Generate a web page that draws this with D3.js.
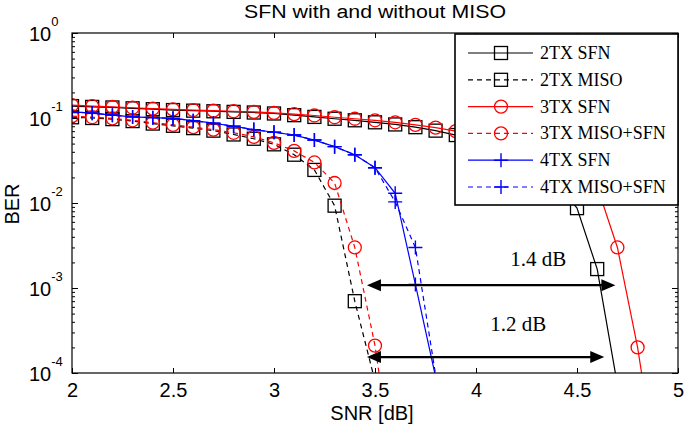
<!DOCTYPE html>
<html><head><meta charset="utf-8">
<script src="https://cdn.jsdelivr.net/npm/d3@7"></script>
<style>body{margin:0;background:#fff;} svg{display:block}</style>
</head><body>
<svg id="c" width="685" height="431"></svg>
<script>
// ---------- data ----------
const snrGrid = [2.0,2.1,2.2,2.3,2.4,2.5,2.6,2.7,2.8,2.9,3.0,3.1,3.2,3.3,3.4,3.5,3.6,3.7,3.8,3.9,4.0,4.1,4.2,4.3,4.4,4.5,4.6,4.7,4.8,4.9];
const ber2TX_SFN  = [0.138,0.135,0.133,0.130,0.127,0.124,0.122,0.120,0.118,0.116,0.113,0.108,0.103,0.098,0.094,0.089,0.084,0.078,0.071,0.063,0.055,0.046,0.037,0.027,0.017,0.0087,0.00167,0.000073];
const ber2TX_MISO = [0.102,0.100,0.097,0.092,0.086,0.081,0.076,0.071,0.064,0.057,0.049,0.037,0.0245,0.0093,0.0007,0.00008];
const ber3TX_SFN  = [0.142,0.138,0.135,0.132,0.129,0.126,0.124,0.122,0.120,0.118,0.115,0.111,0.107,0.102,0.098,0.094,0.089,0.083,0.077,0.070,0.064,0.058,0.052,0.046,0.038,0.028,0.0156,0.003,0.0002,0.000006];
const ber3TX_MISO = [0.105,0.102,0.099,0.094,0.088,0.083,0.078,0.073,0.067,0.060,0.051,0.041,0.030,0.0172,0.003,0.00021,0.000005];
const ber4TX_SFN  = [0.118,0.114,0.108,0.103,0.101,0.099,0.093,0.087,0.080,0.073,0.068,0.063,0.055,0.046,0.037,0.026,0.013,0.0011,0.00009];
const ber4TX_MISO = [0.118,0.114,0.108,0.103,0.101,0.099,0.093,0.087,0.080,0.073,0.068,0.063,0.055,0.046,0.037,0.026,0.0103,0.003,0.000095,0.000003];

const seriesNames  = ["2TX SFN","2TX MISO","3TX SFN","3TX MISO+SFN","4TX SFN","4TX MISO+SFN"];
const seriesValues = [ber2TX_SFN, ber2TX_MISO, ber3TX_SFN, ber3TX_MISO, ber4TX_SFN, ber4TX_MISO];
const seriesColors = ["#000000","#000000","#ff0000","#ff0000","#0000ff","#0000ff"];
const seriesDashed = [false,true,false,true,false,true];
const seriesMarker = ["square","square","circle","circle","plus","plus"];

const xTicks = [2,2.5,3,3.5,4,4.5,5];
const yMajor = [1e-4,1e-3,1e-2,1e-1,1];
const yExponents = ["-4","-3","-2","-1","0"];

const arrowSNR = [[3.46,4.69],[3.46,4.635]];
const arrowBER = [1.08e-3,1.54e-4];
const annoText = ["1.4 dB","1.2 dB"];
const annoSNR  = [4.17,4.07];
const annoBER  = [1.8e-3,3.1e-4];

const titleText = "SFN with and without MISO";
const xLabel = "SNR [dB]";
const yLabel = "BER";

// ---------- layout ----------
const W=685,H=431;
const M={left:72,right:678,top:33,bottom:373};
const sans = "'Liberation Sans', Arial, Helvetica, sans-serif";
const serif = "'Liberation Serif', 'Times New Roman', serif";

const x = d3.scaleLinear().domain([2,5]).range([M.left,M.right]);
const y = d3.scaleLog().domain([1e-4,1]).range([M.bottom,M.top]);

const svg = d3.select("#c");
svg.append("rect").attr("width",W).attr("height",H).attr("fill","#fff");
svg.append("clipPath").attr("id","clip").append("rect")
  .attr("x",M.left).attr("y",M.top).attr("width",M.right-M.left).attr("height",M.bottom-M.top);

// minor ticks
const yMinor = [];
for (let e=-4;e<0;e++) for (let k=2;k<=9;k++) yMinor.push(k*Math.pow(10,e));

const gAx = svg.append("g");
gAx.append("g").attr("transform",`translate(0,${M.bottom})`)
  .call(d3.axisBottom(x).tickValues(xTicks).tickSizeInner(-5).tickSizeOuter(0).tickPadding(10).tickFormat(d=>String(d)))
  .call(g=>g.selectAll("text").attr("font-size",20).attr("font-family",sans).attr("fill","#000"));
gAx.append("g").attr("transform",`translate(0,${M.top})`)
  .call(d3.axisTop(x).tickValues(xTicks).tickSizeInner(-5).tickSizeOuter(0).tickFormat(""));
gAx.append("g").attr("transform",`translate(${M.left},0)`)
  .call(d3.axisLeft(y).tickValues(yMajor).tickSizeInner(-6).tickSizeOuter(0).tickFormat(""));
gAx.append("g").attr("transform",`translate(${M.right},0)`)
  .call(d3.axisRight(y).tickValues(yMajor).tickSizeInner(-6).tickSizeOuter(0).tickFormat(""));
gAx.append("g").attr("transform",`translate(${M.left},0)`)
  .call(d3.axisLeft(y).tickValues(yMinor).tickSizeInner(-3).tickSizeOuter(0).tickFormat(""));
gAx.append("g").attr("transform",`translate(${M.right},0)`)
  .call(d3.axisRight(y).tickValues(yMinor).tickSizeInner(-3).tickSizeOuter(0).tickFormat(""));
gAx.selectAll(".domain").remove();
gAx.selectAll(".tick line").attr("stroke","#000").attr("stroke-width",1);

// y tick labels 10^e
yMajor.forEach((v,i)=>{
  const t = svg.append("text").attr("x",29).attr("y",y(v)+8)
    .attr("font-family",sans).attr("font-size",20).attr("fill","#000");
  t.append("tspan").text("10");
  t.append("tspan").attr("font-size",13).attr("dy",-15).text(yExponents[i]);
});

// ---------- curves ----------
const line = d3.line().x(d=>x(d[0])).y(d=>y(d[1]));
const plot = svg.append("g").attr("clip-path","url(#clip)");

function drawMarker(g, type, cx, cy, color){
  if (type==="square"){
    g.append("rect").attr("x",cx-6.5).attr("y",cy-6.5).attr("width",13).attr("height",13)
      .attr("fill","none").attr("stroke",color).attr("stroke-width",1.3);
  } else if (type==="circle"){
    g.append("circle").attr("cx",cx).attr("cy",cy).attr("r",6.5)
      .attr("fill","none").attr("stroke",color).attr("stroke-width",1.3);
  } else {
    g.append("path").attr("d",`M${cx-7},${cy}H${cx+7}M${cx},${cy-7}V${cy+7}`)
      .attr("fill","none").attr("stroke",color).attr("stroke-width",1.4);
  }
}

seriesValues.forEach((vals,i)=>{
  const pts = vals.map((v,j)=>[snrGrid[j],v]);
  const g = plot.append("g");
  g.append("path").attr("d",line(pts)).attr("fill","none")
    .attr("stroke",seriesColors[i]).attr("stroke-width",1.2)
    .attr("stroke-dasharray",seriesDashed[i]?"5,4":null);
  pts.filter(p=>p[1]>=1e-4 && p[1]<=1).forEach(p=>drawMarker(g,seriesMarker[i],x(p[0]),y(p[1]),seriesColors[i]));
});

// ---------- annotations ----------
function arrowHead(g, tipX, tipY, dir){
  const L=14, Hh=6;
  g.append("path").attr("d",`M${tipX},${tipY}L${tipX-dir*L},${tipY-Hh}L${tipX-dir*L},${tipY+Hh}Z`).attr("fill","#000");
}
arrowSNR.forEach((s,i)=>{
  const yy = y(arrowBER[i]);
  const x0 = x(s[0]), x1 = x(s[1]);
  const g = svg.append("g");
  g.append("line").attr("x1",x0+10).attr("x2",x1-10).attr("y1",yy).attr("y2",yy)
    .attr("stroke","#000").attr("stroke-width",2.2);
  arrowHead(g,x0,yy,-1);
  arrowHead(g,x1,yy,1);
  svg.append("text").attr("x",x(annoSNR[i])).attr("y",y(annoBER[i]))
    .attr("font-family",serif).attr("font-size",21).attr("fill","#000").text(annoText[i]);
});

// ---------- box ----------
svg.append("rect").attr("x",M.left).attr("y",M.top).attr("width",M.right-M.left).attr("height",M.bottom-M.top)
  .attr("fill","none").attr("stroke","#000").attr("stroke-width",1.2);

// ---------- legend ----------
const lg = svg.append("g");
lg.append("rect").attr("x",455).attr("y",34).attr("width",223).attr("height",171)
  .attr("fill","#fff").attr("stroke","#000").attr("stroke-width",1.6);
seriesNames.forEach((nm,i)=>{
  const ry = 53 + i*26.8;
  lg.append("line").attr("x1",468).attr("x2",533).attr("y1",ry).attr("y2",ry)
    .attr("stroke",seriesColors[i]).attr("stroke-width",1.2)
    .attr("stroke-dasharray",seriesDashed[i]?"5,4":null);
  drawMarker(lg,seriesMarker[i],501,ry,seriesColors[i]);
  lg.append("text").attr("x",540).attr("y",ry+6).attr("font-family",serif).attr("font-size",18)
    .attr("fill","#000").text(nm);
});

// ---------- titles ----------
svg.append("text").attr("x",(M.left+M.right)/2).attr("y",18).attr("text-anchor","middle")
  .attr("font-family",sans).attr("font-size",18).attr("textLength",262).attr("lengthAdjust","spacingAndGlyphs")
  .attr("fill","#000").text(titleText);
svg.append("text").attr("x",372).attr("y",420).attr("text-anchor","middle")
  .attr("font-family",sans).attr("font-size",20).attr("fill","#000").text(xLabel);
svg.append("text").attr("transform",`translate(19,204) rotate(-90)`).attr("text-anchor","middle")
  .attr("font-family",sans).attr("font-size",20).attr("fill","#000").text(yLabel);
</script>
</body></html>
